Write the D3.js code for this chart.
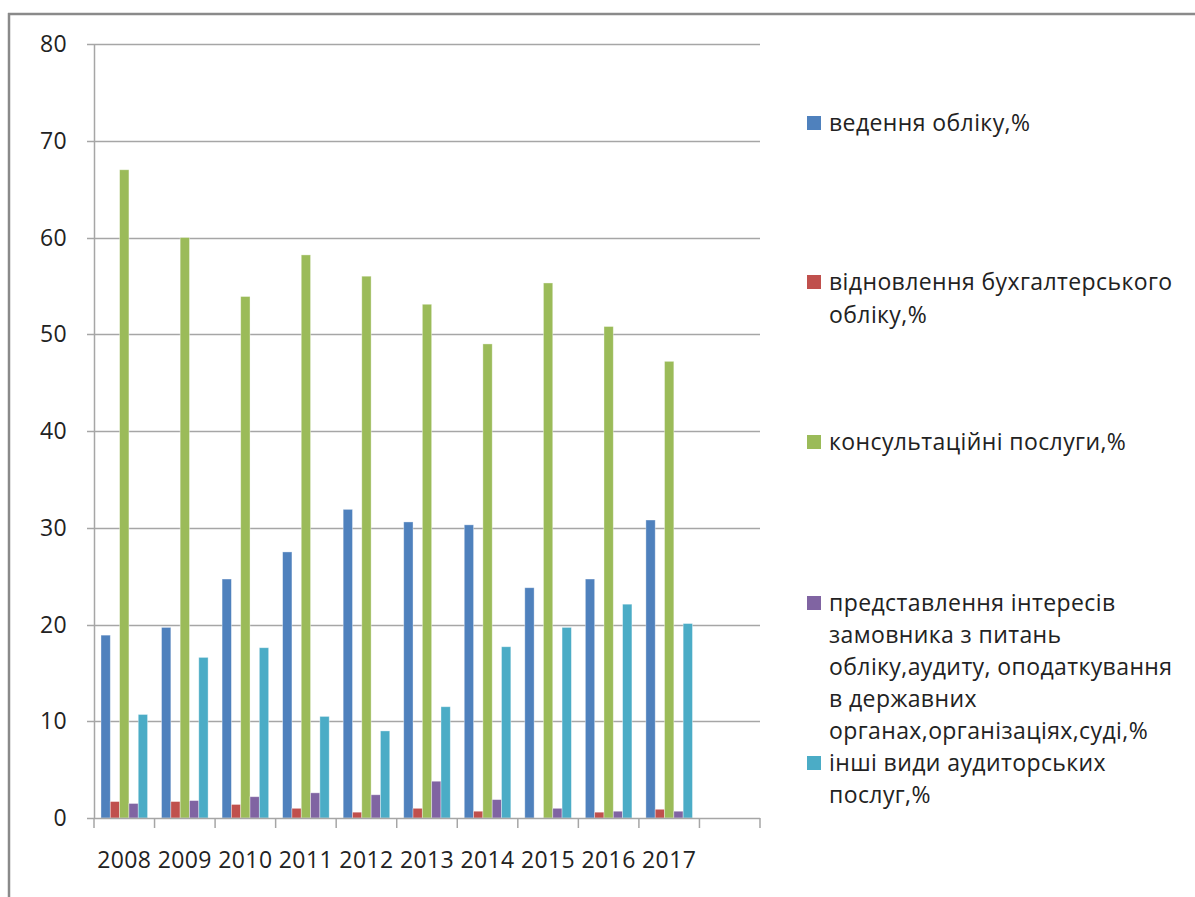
<!DOCTYPE html>
<html>
<head>
<meta charset="utf-8">
<script src="https://cdn.jsdelivr.net/npm/d3@7"></script>
<style>
  html, body { margin: 0; padding: 0; background: #fff; }
  svg { display: block; font-family: "Open Sans", "Noto Sans", sans-serif; letter-spacing: 0.4px; }
</style>
</head>
<body>
<svg id="chart" width="1195" height="897"></svg>
<script>
// Years on the category axis (one extra empty slot follows them)
const years = ["2008", "2009", "2010", "2011", "2012", "2013", "2014", "2015", "2016", "2017"];

// Series names, in drawing order
const seriesNames = [
  "ведення обліку,%",
  "відновлення бухгалтерського обліку,%",
  "консультаційні послуги,%",
  "представлення інтересів замовника з питань обліку,аудиту, оподаткування в державних органах,організаціях,суді,%",
  "інші види аудиторських послуг,%"
];

// Share of each service, % per year
const accounting     = [18.9, 19.7, 24.7, 27.5, 31.9, 30.6, 30.3, 23.8, 24.7, 30.8];
const restoration    = [1.7, 1.7, 1.4, 1.0, 0.6, 1.0, 0.7, 0.0, 0.6, 0.9];
const consulting     = [67.0, 60.0, 53.9, 58.2, 56.0, 53.1, 49.0, 55.3, 50.8, 47.2];
const representation = [1.5, 1.8, 2.2, 2.6, 2.4, 3.8, 1.9, 1.0, 0.7, 0.7];
const otherServices  = [10.7, 16.6, 17.6, 10.5, 9.0, 11.5, 17.7, 19.7, 22.1, 20.1];

const yTicks = [0, 10, 20, 30, 40, 50, 60, 70, 80];

// Legend text broken into lines as displayed
const legendLines = [
  ["ведення обліку,%"],
  ["відновлення бухгалтерського", "обліку,%"],
  ["консультаційні послуги,%"],
  ["представлення інтересів", "замовника з питань", "обліку,аудиту, оподаткування", "в державних", "органах,організаціях,суді,%"],
  ["інші види аудиторських", "послуг,%"]
];

const colors = ["#4F81BD", "#C0504D", "#9BBB59", "#8064A2", "#4BACC6"];
const seriesValues = [accounting, restoration, consulting, representation, otherServices];

const svg = d3.select("#chart");
const plot = { left: 94, right: 760, top: 44, bottom: 818 };
const fontSize = 23;

// Outer frame (top and left edges)
svg.append("line").attr("x1", 8).attr("x2", 1195).attr("y1", 14).attr("y2", 14)
  .attr("stroke", "#8a8a8a").attr("stroke-width", 2.5);
svg.append("line").attr("x1", 9).attr("x2", 9).attr("y1", 13).attr("y2", 897)
  .attr("stroke", "#8a8a8a").attr("stroke-width", 2.5);

const slots = years.concat([""]);
const x = d3.scaleBand().domain(slots).range([plot.left, plot.right]).padding(0);
const xInner = d3.scaleBand().domain(d3.range(seriesNames.length))
  .range([0, x.bandwidth()]).paddingInner(0).paddingOuter(0.75);
const y = d3.scaleLinear().domain([0, 80]).range([plot.bottom, plot.top]);

// Horizontal gridlines with outside ticks
const gridColor = "#a6a6a6";
svg.append("g").selectAll("line").data(yTicks.filter(t => t > 0)).join("line")
  .attr("x1", plot.left - 7).attr("x2", plot.right)
  .attr("y1", d => Math.round(y(d)) + 0.5).attr("y2", d => Math.round(y(d)) + 0.5)
  .attr("stroke", gridColor).attr("stroke-width", 1.5);

// Y axis labels
svg.append("g").selectAll("text").data(yTicks).join("text")
  .attr("x", 67).attr("y", d => y(d)).attr("dy", "0.35em")
  .attr("text-anchor", "end").attr("font-size", fontSize).attr("fill", "#222")
  .text(d => d);

// Bars
const groups = svg.append("g").selectAll("g").data(years).join("g")
  .attr("transform", d => `translate(${x(d)},0)`);
groups.selectAll("rect")
  .data((yr, i) => seriesValues.map((vals, s) => ({ s, v: vals[i] })))
  .join("rect")
  .filter(d => d.v > 0)
  .attr("x", d => xInner(d.s))
  .attr("width", xInner.bandwidth())
  .attr("y", d => y(d.v))
  .attr("height", d => y(0) - y(d.v))
  .attr("fill", d => colors[d.s])
  .attr("stroke", "#ffffff").attr("stroke-opacity", 0.45).attr("stroke-width", 0.8);

// Y axis line
svg.append("line").attr("x1", plot.left + 0.5).attr("x2", plot.left + 0.5)
  .attr("y1", plot.top).attr("y2", plot.bottom)
  .attr("stroke", gridColor).attr("stroke-width", 1.5);

// X axis baseline and category separators
svg.append("line").attr("x1", plot.left - 7).attr("x2", plot.right)
  .attr("y1", plot.bottom + 0.5).attr("y2", plot.bottom + 0.5)
  .attr("stroke", gridColor).attr("stroke-width", 1.5);
const bounds = slots.map(s => x(s)).concat([plot.right]);
svg.append("g").selectAll("line").data(bounds).join("line")
  .attr("x1", d => d).attr("x2", d => d)
  .attr("y1", plot.bottom).attr("y2", plot.bottom + 10)
  .attr("stroke", gridColor).attr("stroke-width", 1.5);

// Year labels
svg.append("g").selectAll("text").data(years).join("text")
  .attr("x", d => x(d) + x.bandwidth() / 2).attr("y", 860).attr("dy", "0.35em")
  .attr("text-anchor", "middle").attr("font-size", fontSize).attr("fill", "#222")
  .text(d => d);

// Legend
const legendTop = [123, 282, 442, 603, 763];
const lineH = [33, 33, 33, 32, 32];
const legend = svg.append("g").selectAll("g").data(legendLines).join("g")
  .attr("transform", (d, i) => `translate(0,${legendTop[i]})`);
legend.append("rect")
  .attr("x", 807).attr("y", -7).attr("width", 14).attr("height", 14)
  .attr("fill", (d, i) => colors[i]);
legend.each(function (lines, i) {
  d3.select(this).append("text")
    .attr("font-size", fontSize).attr("fill", "#222")
    .selectAll("tspan").data(lines).join("tspan")
    .attr("x", 829).attr("y", (d, j) => j * lineH[i]).attr("dy", "0.35em")
    .text(d => d);
});
</script>
</body>
</html>
